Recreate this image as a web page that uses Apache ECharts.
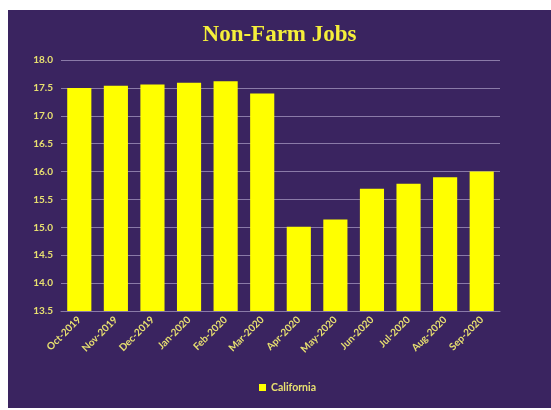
<!DOCTYPE html>
<html>
<head>
<meta charset="utf-8">
<script src="https://cdn.jsdelivr.net/npm/echarts@6/dist/echarts.min.js"></script>
<style>
html,body{margin:0;padding:0;background:#ffffff;}
#wrap{position:absolute;left:8px;top:10px;width:543px;height:398px;background:#3a2460;}
#chart{width:543px;height:398px;}
</style>
</head>
<body>
<div id="wrap"><div id="chart"></div></div>
<script>
const categories = ["Oct-2019","Nov-2019","Dec-2019","Jan-2020","Feb-2020","Mar-2020","Apr-2020","May-2020","Jun-2020","Jul-2020","Aug-2020","Sep-2020"];
const california = [17.50, 17.54, 17.56, 17.59, 17.62, 17.40, 15.01, 15.14, 15.69, 15.78, 15.90, 16.00];
const seriesName = "California";
const titleText = "Non-Farm Jobs";

const chart = echarts.init(document.getElementById('chart'), null, {renderer:'canvas'});
chart.setOption({
  backgroundColor: '#3a2460',
  animation: false,
  title: {
    text: titleText,
    left: 'center',
    top: 9,
    textStyle: {color:'#f5ef3a', fontFamily:'Liberation Serif', fontWeight:'bold', fontSize:23}
  },
  legend: {
    data: [seriesName],
    top: 367,
    left: 246,
    itemWidth: 7, itemHeight: 7, itemGap: 3,
    icon: 'rect',
    textStyle: {color:'#e8e070', fontFamily:'Lato', fontWeight:'bold', fontSize:10.5}
  },
  grid: {left: 53, right: 51, top: 50, bottom: 97, containLabel:false},
  xAxis: {
    type: 'category',
    data: categories,
    axisLine: {show:true, lineStyle:{color:'#8a7aa8', width:1}},
    axisTick: {show:false},
    axisLabel: {rotate:45, color:'#e8e070', fontFamily:'Lato', fontWeight:'bold', fontSize:10, margin:7, interval:0}
  },
  yAxis: {
    type: 'value',
    min: 13.5, max: 18.0, interval: 0.5,
    axisLine: {show:false},
    axisTick: {show:false},
    splitLine: {show:true, lineStyle:{color:'#8a7aa8', width:1}},
    axisLabel: {color:'#e8e070', fontFamily:'Lato', fontWeight:'bold', fontSize:10, margin:8,
      formatter: v => v.toFixed(1)}
  },
  series: [{
    name: seriesName,
    type: 'bar',
    data: california,
    barCategoryGap: '34%',
    itemStyle: {color:'#ffff00'}
  }]
});
</script>
</body>
</html>
